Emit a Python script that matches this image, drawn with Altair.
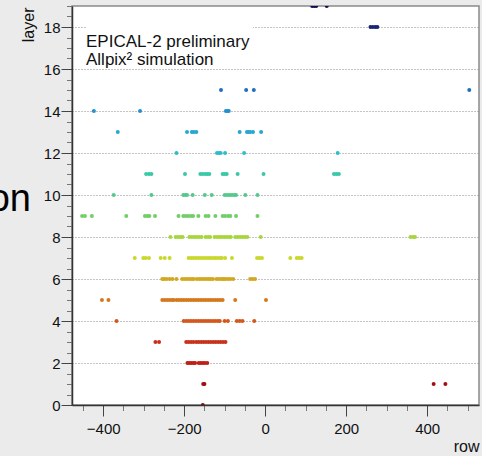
import altair as alt
import pandas as pd

FONT = "Liberation Sans"

# Hit rows per detector layer
rows_layer0 = [-154]
rows_layer1 = [-153, -150, 416, 445]
rows_layer2 = [-192, -187, -182, -177, -173, -164, -159, -154, -149, -143]
rows_layer3 = [-271, -262, -195, -189, -183, -177, -170, -164, -158, -152, -146,
               -140, -134, -128, -122, -116, -110, -104, -98]
rows_layer4 = [-367, -201, -195, -189, -183, -177, -171, -165, -159, -153, -147,
               -141, -135, -129, -123, -117, -112, -100, -92, -70, -63, -56, -27]
rows_layer5 = [-403, -387, -254, -248, -242, -236, -230, -226, -219, -213, -207,
               -201, -195, -189, -183, -177, -171, -165, -159, -153, -147, -141,
               -135, -129, -123, -117, -111, -105, -74, 2]
rows_layer6 = [-254, -249, -243, -236, -229, -219, -205, -199, -193, -187, -181,
               -177, -169, -163, -157, -151, -145, -139, -134, -129, -120, -114,
               -108, -103, -98, -92, -86, -79, -37, -31, -25]
rows_layer7 = [-322, -301, -295, -287, -258, -248, -236, -189, -183, -177, -171,
               -165, -159, -153, -147, -141, -135, -129, -123, -117, -111, -107,
               -99, -82, -20, -14, -8, 62, 78, 84, 90]
rows_layer8 = [-234, -221, -215, -209, -204, -187, -181, -175, -169, -163, -157,
               -147, -141, -136, -125, -119, -113, -107, -101, -95, -89, -85, -74,
               -68, -62, -56, -50, -44, -11, 359, 365, 370]
rows_layer9 = [-452, -445, -428, -343, -297, -291, -286, -272, -214, -202, -196,
               -190, -183, -178, -165, -147, -140, -123, -105, -99, -92, -86, -72, -19]
rows_layer10 = [-374, -281, -202, -197, -193, -179, -149, -132, -100, -94, -88,
                -82, -76, -72, -49, -19]
rows_layer11 = [-294, -287, -281, -198, -160, -154, -148, -143, -138, -105, -100,
                -95, -68, -4, 170, 176, 182]
rows_layer12 = [-219, -119, -114, -110, -99, -52, 179]
rows_layer13 = [-364, -193, -181, -176, -170, -63, -45, -41, -37, -30, -10]
rows_layer14 = [-423, -309, -97, -93, -90]
rows_layer15 = [-109, -47, -28, 504]
rows_layer18 = [260, 266, 272, 277]
rows_layer19 = [116, 121, 126, 152]

layers = [0, 1, 2, 3, 4, 5, 6, 7, 8, 9, 10, 11, 12, 13, 14, 15, 18, 19]
layer_rows = [rows_layer0, rows_layer1, rows_layer2, rows_layer3, rows_layer4,
              rows_layer5, rows_layer6, rows_layer7, rows_layer8, rows_layer9,
              rows_layer10, rows_layer11, rows_layer12, rows_layer13, rows_layer14,
              rows_layer15, rows_layer18, rows_layer19]
layer_colors = ["#8b0a0a", "#a30f0f", "#c01f15", "#c8321a", "#d4581c", "#d6781e",
                "#d2a820", "#c8d82e", "#a6d63c", "#72cf68", "#55c98a", "#3ac8a8",
                "#2dbfc9", "#28a8d0", "#2391d0", "#1f6fbf", "#1a2575", "#0d0f55"]

x_major = [-400, -200, 0, 200, 400]
x_minor = [-450, -350, -300, -250, -150, -100, -50, 50, 100, 150, 250, 300,
           350, 450, 500]
y_major = [0, 2, 4, 6, 8, 10, 12, 14, 16, 18]
y_minor = [v / 2 for v in range(0, 39)]

label_lines = ["EPICAL-2 preliminary", "Allpix² simulation"]

hits = pd.DataFrame(
    [(lay, r) for lay, rows in zip(layers, layer_rows) for r in rows],
    columns=["layer", "row"],
)

W, H = 407, 399
xs = alt.Scale(domain=[-477, 528], nice=False, zero=False)
ys = alt.Scale(domain=[0, 19], nice=False, zero=False)

axis_common = dict(
    labelFont=FONT, titleFont=FONT, labelColor="#111", titleColor="#111",
    titleFontWeight="normal", labelFontSize=15, titleFontSize=16,
    domainColor="#333", domainWidth=1.5, tickColor="#444", tickWidth=1,
    labelFlush=False, labelOverlap=False,
)

x_axis = alt.Axis(
    values=x_major, orient="bottom", format="d", tickSize=11, labelPadding=5,
    grid=False, title="row", titleX=W, titleY=46, titleAlign="right",
    titleBaseline="alphabetic", **axis_common,
)
y_axis = alt.Axis(
    values=y_major, orient="left", format="d", tickSize=11, labelPadding=1,
    grid=True, gridColor="#888", gridDash=[1, 2], gridWidth=1,
    title="layer", titleX=-39, titleY=1, titleAlign="right",
    titleBaseline="alphabetic", titleAngle=270, **axis_common,
)
x_minor_axis = alt.Axis(
    values=x_minor, orient="bottom", labels=False, title=None, domain=False,
    grid=False, tickSize=5.5, tickColor="#777", tickWidth=1,
)
y_minor_axis = alt.Axis(
    values=y_minor, orient="left", labels=False, title=None, domain=False,
    grid=False, tickSize=5.5, tickColor="#777", tickWidth=1,
)

minor = alt.Chart(hits).mark_circle(opacity=0).encode(
    x=alt.X("row:Q", scale=xs, axis=x_minor_axis),
    y=alt.Y("layer:Q", scale=ys, axis=y_minor_axis),
)

points = alt.Chart(hits).mark_circle(size=16, opacity=1, clip=True).encode(
    x=alt.X("row:Q", scale=xs, axis=x_axis),
    y=alt.Y("layer:Q", scale=ys, axis=y_axis),
    color=alt.Color("layer:O", scale=alt.Scale(domain=layers, range=layer_colors),
                    legend=None),
)

label_box = alt.Chart(pd.DataFrame({"k": [0]})).mark_rect(fill="white").encode(
    x=alt.value(14), x2=alt.value(181), y=alt.value(19), y2=alt.value(62),
)
line1 = alt.Chart(pd.DataFrame({"t": [label_lines[0]]})).mark_text(
    align="left", baseline="alphabetic", font=FONT, fontSize=17, color="#111",
).encode(x=alt.value(14), y=alt.value(41), text="t:N")
line2 = alt.Chart(pd.DataFrame({"t": [label_lines[1]]})).mark_text(
    align="left", baseline="alphabetic", font=FONT, fontSize=17, color="#111",
).encode(x=alt.value(14), y=alt.value(59), text="t:N")
side_word = alt.Chart(pd.DataFrame({"t": ["on"]})).mark_text(
    align="right", baseline="alphabetic", font=FONT, fontSize=38, color="#000",
).encode(x=alt.value(-41), y=alt.value(205), text="t:N")

chart = (
    alt.layer(minor, label_box, line1, line2, side_word, points)
    .resolve_axis(x="independent", y="independent")
    .properties(
        width=W, height=H,
        padding={"left": 72, "top": 6, "right": 3, "bottom": 51},
        autosize=alt.AutoSizeParams(type="none"),
        background="#ebebeb",
    )
    .configure_view(fill="white", stroke="#8a8a8a", strokeWidth=1.5)
)

chart.save("out.html", embed_options={"renderer": "svg", "actions": False})
